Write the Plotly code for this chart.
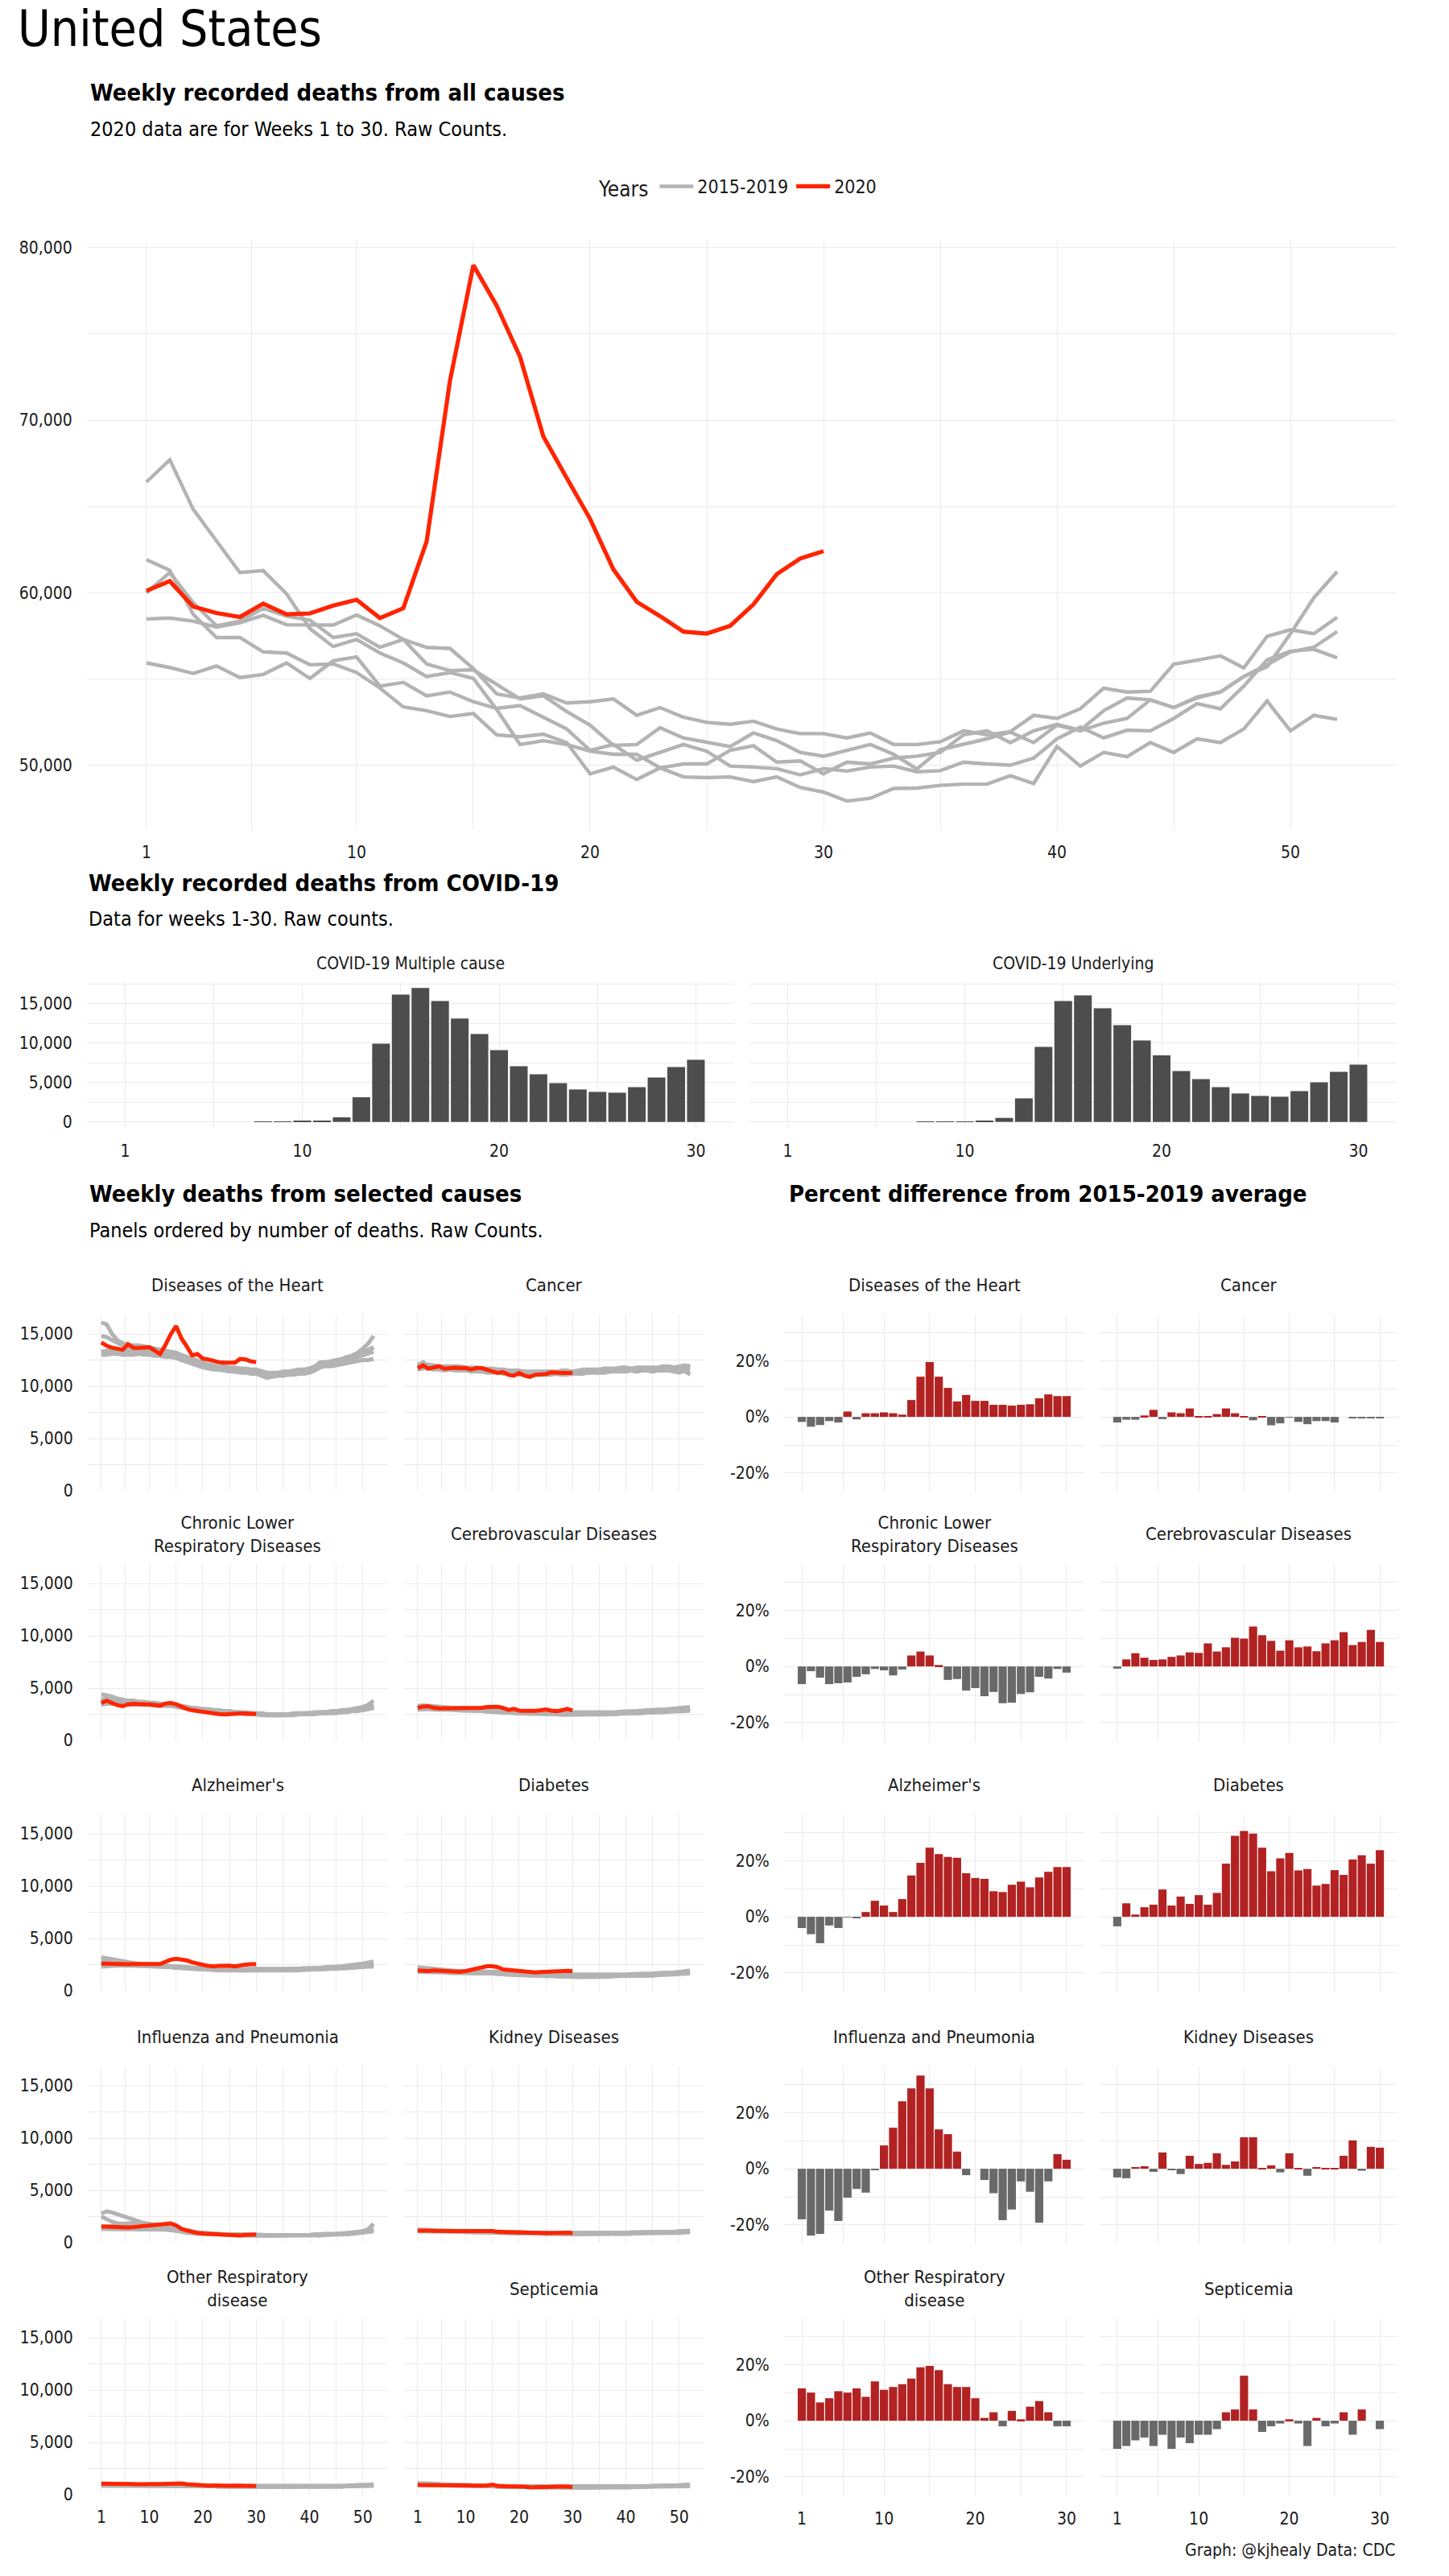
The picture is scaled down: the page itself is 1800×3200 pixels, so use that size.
import plotly.graph_objects as go

# ---------------------------------------------------------------- data
weeks = list(range(1, 53))
weeks_2020 = list(range(1, 31))

# all causes, weekly recorded deaths
all_2015 = [61910,61300,58750,57400,57400,56570,56500,55820,55870,55370,54470,53380,53160,52820,53000,51760,51650,51800,51310,49500,49890,49170,49840,49320,49280,
            49320,49050,49320,48710,48440,47920,48080,48650,48670,48830,48900,48900,49390,48940,51080,49950,50740,50500,51310,50740,51530,51310,52100,53720,51990,52890,52660]
all_2016 = [55930,55660,55320,55750,55080,55260,55930,55030,56050,56270,54580,54800,54020,54240,53680,53290,53450,52780,52100,50860,51200,50290,50740,51200,50810,
            49950,49890,49800,49440,49800,49660,49890,49950,49620,49680,50180,50070,50000,50410,51530,52210,51580,52030,51990,52710,53570,53270,54580,56110,56610,56720,56230]
all_2017 = [59990,61170,59430,58080,58350,59090,58640,58410,57400,57620,56830,57290,55870,55480,55530,54690,53840,54020,53110,52320,51150,51200,52170,51580,51310,
            51080,51870,51420,50740,50520,50860,51200,50630,49780,50900,51200,51530,51920,51310,52320,51990,52440,52710,53790,53340,53900,54240,55140,55710,57620,59700,61230]
all_2018 = [66420,67710,64840,62990,61170,61280,59930,57920,56880,57290,56500,55930,55140,55370,55030,53230,51200,51420,51200,50810,50630,50630,49840,50070,50070,
            50860,51130,50180,50250,49500,50180,50070,50410,50520,50740,51760,51990,51310,51990,52370,52030,53160,53900,53790,53340,53950,54240,55140,55820,56570,56840,57740]
all_2019 = [58480,58530,58350,58010,58260,58690,58140,58140,58120,58710,58080,57290,56830,56770,55600,54130,53900,54130,53610,53680,53840,52890,53340,52780,52480,
            52370,52550,52100,51830,51830,51580,51870,51200,51200,51360,51990,51760,51940,52890,52710,53270,54470,54240,54290,55860,56090,56340,55640,57470,57850,57620,58570]
all_2020 = [60110,60670,59200,58820,58590,59360,58750,58800,59250,59590,58530,59100,62970,72290,78990,76640,73680,69060,66650,64280,61350,59470,58640,57740,57630,58080,59320,61080,61980,62410]

# COVID-19 weekly deaths
covid_multiple = [0,0,0,0,0,0,0,10,30,100,140,580,3130,9930,16160,17000,15340,13130,11160,9120,7070,6050,4930,4120,3810,3710,4420,5650,6970,7890]
covid_underlying = [0,0,0,0,0,0,0,5,20,60,100,510,2990,9520,15340,16050,14420,12280,10340,8440,6460,5440,4420,3610,3300,3200,3910,5030,6360,7280]

# selected causes: five 2015-2019 series each, 2020 series, percent difference
heart_prior = [
    [16100,15900,15000,14400,14100,14000,13900,13900,13800,13700,13600,13500,13400,13300,13200,13000,12800,12600,12400,12200,12100,12000,11900,11900,11800,11800,11700,11700,11600,11600,11400,11300,11300,11300,11400,11400,11500,11600,11600,11700,11900,12300,12300,12400,12500,12600,12800,12900,13100,13300,13500,13700],
    [14800,14700,14400,14100,13900,13800,13700,13700,13600,13500,13400,13300,13200,13100,13000,12900,12700,12500,12300,12100,12000,11900,11800,11700,11700,11600,11600,11500,11500,11400,11200,11000,11100,11200,11200,11300,11400,11400,11500,11600,11700,12100,12200,12300,12400,12500,12700,12900,13200,13600,14100,14800],
    [13300,13400,13500,13500,13400,13400,13400,13400,13400,13300,13200,13200,13100,13100,13000,12800,12600,12400,12200,12000,11900,11800,11800,11700,11600,11600,11500,11500,11400,11400,11100,10900,11000,11100,11200,11200,11300,11400,11400,11500,11700,12000,12100,12200,12300,12400,12600,12800,13000,13200,13400,13700],
    [13200,13200,13300,13300,13200,13200,13200,13200,13200,13100,13000,13000,12900,12900,12800,12600,12400,12200,12000,11900,11800,11700,11600,11600,11500,11500,11400,11400,11300,11300,11100,10900,11000,11100,11100,11200,11200,11300,11300,11400,11600,11900,12000,12100,12200,12300,12400,12600,12800,13000,13200,13300],
    [13000,13000,13100,13100,13000,13000,13000,13100,13000,13000,12900,12900,12800,12800,12700,12500,12300,12100,11900,11800,11700,11600,11600,11500,11400,11400,11300,11300,11200,11200,11000,10800,10900,11000,11000,11100,11100,11200,11200,11300,11500,11800,11900,11900,12000,12100,12200,12300,12400,12500,12500,12600],
]
heart_2020 = [14190,13860,13680,13620,13490,14010,13680,13650,13700,13730,13420,13080,13940,14970,15750,14580,13810,12950,13080,12640,12560,12380,12300,12250,12250,12250,12610,12560,12380,12300]
heart_pct = [-1.8,-3.5,-2.9,-1.5,-2.0,1.9,-0.9,1.3,1.3,1.6,1.3,0.8,6.0,14.3,19.5,14.3,10.3,5.5,7.8,5.7,5.7,4.3,4.3,4.0,4.3,4.5,6.6,8.0,7.4,7.4]

cancer_prior = [
    [12000,12300,11900,11800,11800,11900,11800,11800,11800,11700,11700,11700,11700,11600,11600,11500,11500,11400,11400,11400,11400,11300,11300,11400,11400,11400,11300,11400,11400,11300,11400,11500,11500,11400,11500,11500,11600,11600,11500,11600,11600,11700,11700,11600,11700,11600,11600,11700,11600,11500,11800,12000],
    [11900,12000,12100,11900,11800,11700,11800,11700,11700,11700,11600,11600,11500,11500,11500,11400,11400,11300,11300,11300,11200,11200,11300,11300,11200,11300,11300,11200,11300,11300,11300,11400,11400,11400,11500,11500,11500,11500,11600,11600,11500,11600,11600,11700,11600,11700,11700,11600,11500,11700,11700,11600],
    [11800,12000,11800,11800,11700,11700,11600,11700,11600,11600,11600,11500,11500,11500,11400,11400,11300,11300,11300,11200,11200,11200,11200,11100,11200,11200,11200,11300,11200,11200,11300,11300,11300,11400,11400,11400,11400,11500,11500,11500,11600,11500,11500,11600,11600,11500,11600,11700,11600,11600,11400,11300],
    [11600,11700,11700,11600,11600,11500,11600,11500,11500,11500,11400,11400,11400,11300,11300,11300,11200,11200,11200,11100,11100,11100,11100,11100,11100,11100,11200,11100,11100,11200,11200,11200,11300,11300,11300,11300,11400,11400,11400,11400,11500,11400,11500,11500,11400,11500,11500,11500,11400,11300,11500,11100],
    [12100,12100,12000,12000,11900,11900,11900,11900,11900,11800,11800,11800,11700,11700,11700,11600,11600,11500,11500,11500,11400,11400,11400,11400,11400,11400,11400,11500,11500,11400,11500,11600,11600,11600,11600,11700,11700,11700,11800,11800,11700,11800,11800,11800,11800,11800,11900,11900,11800,11900,12000,11900],
]
cancer_2020 = [11730,11990,11680,11780,11910,11680,11730,11780,11730,11730,11600,11730,11730,11600,11470,11270,11340,11090,11010,11270,11010,10900,11090,11140,11160,11320,11270,11270,11270,11270]
cancer_pct = [-2.0,-1.0,-1.0,0.5,2.5,-0.8,1.6,1.3,3.0,0.2,0.2,1.0,3.0,1.3,0.2,-1.2,0.1,-3.0,-2.3,-0.2,-1.8,-2.6,-1.5,-1.5,-2.0,0.0,-0.5,-0.5,-0.5,-0.5]

clrd_prior = [
    [4400,4300,4200,4000,3900,3800,3800,3700,3700,3600,3600,3500,3500,3400,3400,3300,3200,3100,3100,3000,3000,2900,2900,2800,2800,2700,2700,2700,2600,2600,2600,2500,2500,2500,2500,2500,2600,2600,2600,2600,2700,2700,2700,2800,2800,2900,2900,3000,3100,3200,3400,3800],
    [3900,4000,3900,3800,3800,3700,3700,3700,3600,3600,3600,3500,3500,3500,3400,3300,3200,3100,3000,3000,2900,2900,2800,2800,2800,2700,2700,2600,2600,2600,2500,2500,2500,2500,2500,2500,2500,2600,2600,2600,2600,2700,2700,2700,2800,2800,2900,2900,3000,3100,3200,3400],
    [3700,3800,3800,3700,3700,3700,3600,3600,3600,3500,3500,3500,3400,3400,3300,3200,3100,3100,3000,2900,2900,2800,2800,2800,2700,2700,2600,2600,2600,2500,2500,2500,2400,2400,2500,2500,2500,2500,2600,2600,2600,2600,2700,2700,2700,2800,2800,2900,2900,3000,3100,3200],
    [3600,3600,3600,3600,3500,3500,3500,3500,3500,3400,3400,3400,3300,3300,3300,3200,3100,3000,3000,2900,2800,2800,2800,2700,2700,2600,2600,2600,2500,2500,2500,2400,2400,2400,2400,2500,2500,2500,2500,2600,2600,2600,2600,2700,2700,2700,2800,2800,2900,2900,3000,3100],
    [3400,3500,3500,3500,3500,3400,3400,3400,3400,3400,3300,3300,3300,3300,3200,3100,3100,3000,2900,2900,2800,2800,2700,2700,2700,2600,2600,2500,2500,2500,2400,2400,2400,2400,2400,2400,2400,2500,2500,2500,2500,2600,2600,2600,2600,2700,2700,2800,2800,2900,3000,3200],
]
clrd_2020 = [3580,3790,3580,3370,3270,3450,3500,3450,3450,3450,3370,3320,3530,3580,3450,3190,3010,2880,2800,2720,2620,2570,2520,2490,2540,2570,2570,2570,2540,2520]
clrd_pct = [-6.3,-1.7,-4.0,-6.3,-6.0,-5.7,-3.7,-2.8,-0.9,-1.4,-3.2,-1.1,3.9,5.3,3.9,0.5,-4.8,-4.5,-8.6,-7.7,-10.6,-9.1,-13.1,-12.9,-9.8,-9.2,-3.7,-4.3,-0.9,-2.2]

cerebro_prior = [
    [3300,3350,3300,3250,3200,3150,3150,3100,3100,3050,3050,3000,3000,2950,2950,2900,2850,2800,2800,2750,2750,2750,2700,2700,2700,2700,2700,2650,2650,2650,2650,2650,2650,2650,2700,2700,2700,2700,2750,2750,2800,2800,2850,2900,2900,2950,2950,3000,3050,3050,3100,3200],
    [3200,3250,3200,3150,3100,3100,3050,3050,3000,3000,3000,2950,2950,2900,2900,2850,2800,2750,2750,2700,2700,2650,2650,2650,2650,2600,2600,2600,2600,2600,2600,2600,2600,2600,2600,2650,2650,2650,2700,2700,2700,2750,2800,2800,2850,2850,2900,2950,2950,3000,3000,3100],
    [3100,3150,3100,3100,3050,3050,3000,3000,3000,2950,2950,2900,2900,2850,2850,2800,2750,2700,2700,2650,2650,2600,2600,2600,2600,2550,2550,2550,2550,2550,2550,2550,2550,2550,2600,2600,2600,2600,2650,2650,2650,2700,2700,2750,2750,2800,2800,2850,2900,2900,2950,3000],
    [3000,3050,3050,3000,3000,2950,2950,2950,2900,2900,2900,2850,2850,2800,2800,2750,2700,2650,2650,2600,2600,2600,2550,2550,2550,2500,2500,2500,2500,2500,2500,2500,2500,2500,2550,2550,2550,2550,2600,2600,2600,2650,2650,2700,2700,2750,2750,2800,2800,2850,2850,2900],
    [2950,3000,3000,2950,2950,2900,2900,2900,2850,2850,2850,2800,2800,2750,2750,2700,2650,2650,2600,2600,2550,2550,2550,2500,2500,2500,2500,2450,2450,2450,2450,2450,2450,2500,2500,2500,2500,2500,2550,2550,2550,2600,2600,2650,2650,2700,2700,2750,2750,2800,2800,2850],
]
cerebro_2020 = [3110,3240,3270,3110,3060,3060,3060,3110,3110,3110,3090,3060,3110,3190,3240,3220,3110,2910,3010,2850,2830,2800,2830,2880,2960,2850,2800,2880,3010,2880]
cerebro_pct = [-0.8,2.5,4.7,3.1,2.3,2.5,3.4,3.9,5.0,4.8,8.2,5.3,6.8,10.2,9.9,14.2,11.1,9.1,5.6,9.3,6.8,7.1,5.4,8.2,9.3,12.2,7.6,8.7,13.0,8.7]

alz_prior = [
    [3200,3100,3000,2900,2800,2700,2650,2600,2550,2500,2450,2400,2400,2350,2300,2300,2250,2200,2200,2150,2100,2100,2100,2050,2050,2050,2050,2050,2050,2050,2050,2050,2050,2050,2100,2100,2100,2100,2150,2150,2200,2200,2250,2250,2300,2350,2400,2450,2500,2600,2700,2800],
    [2900,2950,2900,2800,2700,2650,2600,2550,2500,2450,2450,2400,2400,2350,2350,2300,2250,2200,2200,2150,2150,2100,2100,2100,2100,2050,2050,2050,2050,2050,2050,2000,2000,2050,2050,2050,2100,2100,2100,2150,2150,2200,2200,2250,2250,2300,2300,2350,2400,2450,2500,2600],
    [2700,2750,2750,2700,2650,2600,2550,2500,2450,2450,2400,2400,2350,2350,2300,2250,2200,2200,2150,2150,2100,2100,2050,2050,2050,2000,2000,2000,2000,2000,2000,2000,2000,2000,2000,2050,2050,2050,2100,2100,2100,2150,2150,2200,2200,2250,2250,2300,2350,2400,2450,2500],
    [2500,2550,2600,2550,2550,2500,2500,2450,2400,2400,2350,2350,2300,2300,2250,2200,2150,2150,2100,2100,2050,2050,2000,2000,2000,1950,1950,1950,1950,1950,1950,1950,1950,1950,1950,2000,2000,2000,2050,2050,2050,2100,2100,2150,2150,2200,2200,2250,2300,2350,2400,2450],
    [2300,2350,2400,2400,2400,2400,2400,2400,2350,2350,2300,2300,2250,2250,2200,2150,2100,2100,2050,2050,2000,2000,1950,1950,1950,1900,1900,1900,1900,1900,1900,1900,1900,1900,1900,1950,1950,1950,2000,2000,2000,2050,2050,2100,2100,2150,2150,2200,2250,2300,2300,2300],
]
alz_2020 = [2590,2560,2530,2510,2510,2530,2560,2560,2560,2530,2510,2560,2770,2970,3050,2970,2900,2720,2560,2480,2380,2330,2380,2400,2400,2330,2430,2510,2530,2530]
alz_pct = [-4.0,-6.2,-9.4,-3.1,-4.0,-0.2,-0.5,1.7,5.7,4.0,1.7,6.3,14.7,19.2,24.6,22.3,21.3,21.0,15.5,13.8,13.5,9.1,8.8,11.4,12.5,10.5,14.0,16.0,17.7,17.7]

diabetes_prior = [
    [2250,2200,2100,2050,2000,1950,1950,1900,1900,1850,1850,1850,1850,1850,1850,1800,1750,1700,1700,1650,1650,1600,1600,1600,1550,1550,1550,1550,1500,1500,1500,1500,1500,1500,1500,1500,1550,1550,1550,1550,1600,1600,1600,1650,1650,1700,1700,1750,1750,1800,1850,1950],
    [2100,2100,2050,2000,1950,1900,1900,1850,1850,1800,1800,1800,1800,1800,1800,1750,1700,1700,1650,1600,1600,1600,1550,1550,1550,1500,1500,1500,1500,1450,1450,1450,1450,1450,1450,1450,1500,1500,1500,1500,1550,1550,1550,1600,1600,1650,1650,1700,1700,1750,1800,1850],
    [2000,2000,1950,1950,1900,1850,1850,1800,1800,1750,1750,1750,1750,1750,1750,1700,1650,1650,1600,1600,1550,1550,1500,1500,1500,1500,1450,1450,1450,1450,1400,1400,1400,1400,1450,1450,1450,1450,1450,1500,1500,1500,1550,1550,1550,1600,1600,1650,1650,1700,1750,1800],
    [1900,1900,1900,1850,1850,1800,1800,1750,1750,1750,1700,1700,1700,1700,1700,1650,1600,1600,1550,1550,1500,1500,1500,1450,1450,1450,1400,1400,1400,1400,1350,1350,1350,1400,1400,1400,1400,1400,1450,1450,1450,1450,1500,1500,1500,1550,1550,1600,1600,1650,1650,1700],
    [1800,1800,1800,1800,1750,1750,1700,1700,1700,1650,1650,1650,1650,1650,1650,1600,1550,1550,1500,1500,1450,1450,1450,1400,1400,1400,1350,1350,1350,1300,1300,1300,1300,1350,1350,1350,1350,1400,1400,1400,1400,1400,1450,1450,1450,1500,1500,1550,1550,1600,1600,1650],
]
diabetes_2020 = [1940,1890,1890,1940,1910,1910,1890,1840,1810,1890,1990,2070,2250,2350,2350,2250,2040,1990,1990,1940,1840,1780,1760,1780,1810,1890,1910,1890,1910,1890]
diabetes_pct = [-3.4,4.8,0.8,3.4,4.3,9.7,4.0,7.2,4.6,7.7,4.3,8.5,18.9,28.8,30.5,29.6,24.6,16.2,20.8,22.7,16.5,17.0,11.1,11.7,16.6,14.9,20.4,21.9,18.9,23.7]

flu_prior = [
    [2800,3000,2900,2750,2600,2450,2300,2050,1850,1650,1550,1450,1400,1350,1250,1150,1050,1000,950,900,850,850,800,800,800,750,750,750,750,700,700,700,700,700,700,700,750,750,750,750,800,800,800,850,850,900,900,950,1000,1050,1100,1200],
    [2500,2200,2000,1850,1800,1850,1900,1950,1900,1800,1700,1600,1500,1450,1350,1200,1100,1050,1000,950,900,850,850,800,800,800,750,750,750,750,750,700,700,700,700,700,700,750,750,750,750,800,800,800,850,850,900,950,1000,1100,1300,1800],
    [1500,1550,1600,1550,1500,1500,1450,1450,1450,1450,1450,1450,1400,1400,1300,1200,1100,1000,950,900,900,850,850,800,800,800,750,750,750,750,750,700,700,700,700,700,700,750,750,750,750,800,800,800,850,850,900,950,1000,1050,1150,1300],
    [1400,1400,1400,1400,1400,1400,1400,1400,1400,1400,1400,1400,1350,1300,1200,1100,1000,950,900,900,850,850,800,800,800,750,750,750,700,700,700,700,700,700,700,700,700,700,700,750,750,750,750,800,800,800,850,900,950,1000,1050,1150],
    [1300,1300,1300,1300,1300,1300,1300,1300,1300,1300,1300,1300,1250,1200,1150,1050,950,900,900,850,800,800,800,750,750,750,700,700,700,700,650,650,650,650,650,650,700,700,700,700,700,700,750,750,750,800,800,850,900,950,1000,1100],
]
flu_2020 = [1550,1530,1500,1450,1420,1470,1500,1550,1580,1630,1710,1780,1840,1850,1660,1340,1190,1030,930,880,850,830,780,750,720,670,700,750,780,780]
flu_pct = [-18.0,-23.8,-23.2,-14.9,-18.6,-10.3,-7.2,-8.5,-0.4,8.3,14.6,24.0,28.6,33.2,28.6,14.0,12.3,6.1,-2.3,0.0,-4.0,-8.7,-18.3,-14.5,-4.5,-8.2,-19.2,-4.5,5.2,3.2]

kidney_prior = [
    [1250,1250,1200,1200,1200,1150,1150,1150,1150,1100,1100,1100,1100,1100,1050,1050,1050,1000,1000,1000,1000,950,950,950,950,950,950,900,900,900,900,900,900,900,900,950,950,950,950,950,1000,1000,1000,1000,1000,1050,1050,1050,1050,1100,1100,1150],
    [1200,1200,1200,1150,1150,1150,1150,1100,1100,1100,1100,1100,1050,1050,1050,1050,1000,1000,1000,950,950,950,950,950,950,900,900,900,900,900,900,900,900,900,900,900,900,950,950,950,950,950,1000,1000,1000,1000,1000,1050,1050,1050,1100,1100],
    [1150,1150,1150,1150,1100,1100,1100,1100,1100,1050,1050,1050,1050,1000,1000,1000,1000,950,950,950,950,900,900,900,900,900,900,850,850,850,850,850,850,850,850,900,900,900,900,900,900,950,950,950,950,950,1000,1000,1000,1000,1050,1050],
    [1150,1150,1100,1100,1100,1100,1100,1050,1050,1050,1050,1000,1000,1000,1000,950,950,950,950,900,900,900,900,900,850,850,850,850,850,850,850,850,850,850,850,850,850,900,900,900,900,900,900,950,950,950,950,950,1000,1000,1000,1050],
    [1100,1100,1100,1100,1050,1050,1050,1050,1050,1000,1000,1000,1000,1000,950,950,950,900,900,900,900,900,850,850,850,850,850,850,800,800,800,800,800,800,850,850,850,850,850,850,850,900,900,900,900,900,900,950,950,950,1000,1000],
]
kidney_2020 = [1160,1190,1160,1140,1110,1140,1110,1110,1110,1110,1090,1090,1110,1140,1110,1030,1010,980,980,980,960,930,930,930,930,930,960,960,960,930]
kidney_pct = [-3.1,-3.4,0.6,0.9,-1.1,5.8,-0.5,-1.9,4.6,1.7,2.1,5.5,1.4,2.6,11.2,11.2,0.3,1.2,-1.3,5.5,0.3,-2.5,0.6,0.3,0.3,4.6,10.1,-0.7,7.8,7.5]

otherresp_prior = [
    [1050,1050,1000,1000,1000,950,950,950,950,950,950,950,950,900,900,900,900,850,850,850,850,850,850,800,800,800,800,800,800,800,800,800,800,800,800,800,800,800,800,800,800,850,850,850,850,850,850,900,900,900,950,1000],
    [1000,1000,1000,950,950,950,950,950,900,900,900,900,900,900,900,900,850,850,850,850,850,800,800,800,800,800,800,800,800,800,800,800,800,800,800,800,800,800,800,800,800,800,800,800,850,850,850,850,900,900,900,950],
    [950,950,950,950,950,900,900,900,900,900,900,900,900,900,900,850,850,850,850,850,800,800,800,800,800,800,800,800,800,800,750,750,750,750,750,750,750,750,800,800,800,800,800,800,800,800,850,850,850,850,900,900],
    [900,900,900,900,900,900,900,900,900,900,900,850,850,850,850,850,850,800,800,800,800,800,800,800,750,750,750,750,750,750,750,750,750,750,750,750,750,750,750,750,750,800,800,800,800,800,800,800,850,850,850,900],
    [850,850,850,850,850,850,850,850,850,850,850,850,850,850,850,800,800,800,800,800,800,800,750,750,750,750,750,750,750,750,750,750,700,700,700,700,700,750,750,750,750,750,750,750,750,750,800,800,800,800,850,850],
]
otherresp_2020 = [1050,1030,1000,1010,1020,1010,1010,1000,1030,1010,1010,1020,1050,1080,1090,1070,1000,950,930,900,870,880,850,860,850,860,860,850,830,830]
otherresp_pct = [11.5,10.0,6.5,8.0,10.5,10.0,11.5,8.5,14.0,11.0,12.0,13.0,15.0,19.0,19.5,18.0,13.0,12.0,12.0,8.0,1.0,3.0,-2.0,3.5,0.5,5.0,7.0,3.0,-2.0,-2.0]

sept_prior = [
    [1100,1100,1050,1050,1000,1000,1000,950,950,950,900,900,900,850,850,850,850,800,800,800,800,800,800,750,750,750,750,750,750,750,750,750,750,750,750,750,750,750,800,800,800,800,800,800,850,850,850,850,900,900,950,950],
    [1050,1050,1050,1000,1000,950,950,950,900,900,900,850,850,850,850,800,800,800,800,800,750,750,750,750,750,750,750,750,750,750,750,750,750,750,750,750,750,750,750,800,800,800,800,800,800,800,850,850,850,900,900,950],
    [1000,1000,1000,1000,950,950,950,900,900,900,850,850,850,850,800,800,800,800,750,750,750,750,750,750,750,750,750,700,700,700,700,700,700,700,700,750,750,750,750,750,750,800,800,800,800,800,800,850,850,850,900,900],
    [1000,1000,950,950,950,900,900,900,900,850,850,850,850,800,800,800,800,750,750,750,750,750,750,700,700,700,700,700,700,700,700,700,700,700,700,700,700,700,750,750,750,750,750,750,800,800,800,800,800,850,850,850],
    [950,950,950,900,900,900,900,850,850,850,850,800,800,800,800,750,750,750,750,750,700,700,700,700,700,700,700,700,700,700,650,650,650,650,700,700,700,700,700,700,700,750,750,750,750,750,750,800,800,800,800,850],
]
sept_2020 = [930,920,920,910,880,880,850,870,840,850,830,840,860,880,950,830,770,780,780,790,770,700,760,740,740,770,720,780,760,740]
sept_pct = [-10.0,-9.0,-7.0,-6.0,-9.0,-5.0,-10.0,-6.0,-8.0,-5.0,-5.0,-3.0,3.0,4.0,16.0,4.0,-4.0,-2.0,-1.0,0.5,-1.0,-9.0,1.0,-2.0,-1.0,3.0,-5.0,4.0,0.0,-3.0]

cause_labels = ["Diseases of the Heart", "Cancer",
                "Chronic Lower<br>Respiratory Diseases", "Cerebrovascular Diseases",
                "Alzheimer's", "Diabetes",
                "Influenza and Pneumonia", "Kidney Diseases",
                "Other Respiratory<br>disease", "Septicemia"]
cause_prior = [heart_prior, cancer_prior, clrd_prior, cerebro_prior, alz_prior,
               diabetes_prior, flu_prior, kidney_prior, otherresp_prior, sept_prior]
cause_2020 = [heart_2020, cancer_2020, clrd_2020, cerebro_2020, alz_2020,
              diabetes_2020, flu_2020, kidney_2020, otherresp_2020, sept_2020]
cause_pct = [heart_pct, cancer_pct, clrd_pct, cerebro_pct, alz_pct,
             diabetes_pct, flu_pct, kidney_pct, otherresp_pct, sept_pct]

# ---------------------------------------------------------------- style
W, H = 1800, 3200
FONT = "Liberation Sans Narrow, DejaVu Sans Condensed, sans-serif"
TXT = "#1A1A1A"
TICKFONT = dict(family=FONT, size=21, color=TXT)
GRAY = "#B3B3B3"
RED = "#FF2400"
DARK = "#4D4D4D"
POS = "#B22222"
NEG = "#696969"
GRID = "#EBEBEB"

fig = go.Figure()
axes = {}
annotations = []
count = [0]


def panel(x0, x1, y0, y1, xrange, yrange, xticks, xlabels, xminor,
          yticks, ylabels, yminor, show_x, show_y):
    count[0] += 1
    n = count[0]
    s = "" if n == 1 else str(n)
    base = dict(showgrid=True, gridcolor=GRID, gridwidth=1.2, zeroline=False,
                showline=False, ticks="outside", tickcolor="rgba(0,0,0,0)",
                tickfont=TICKFONT, fixedrange=True, tickmode="array")
    axes["xaxis" + s] = dict(base, domain=[x0 / W, x1 / W], range=xrange,
                             anchor="y" + s, tickvals=xticks, ticktext=xlabels,
                             showticklabels=show_x, ticklen=9,
                             minor=dict(tickmode="array", tickvals=xminor, showgrid=True,
                                        gridcolor=GRID, gridwidth=0.7, ticks=""))
    axes["yaxis" + s] = dict(base, domain=[1 - y1 / H, 1 - y0 / H], range=yrange,
                             anchor="x" + s, tickvals=yticks, ticktext=ylabels,
                             showticklabels=show_y, ticklen=13,
                             minor=dict(tickmode="array", tickvals=yminor, showgrid=True,
                                        gridcolor=GRID, gridwidth=0.7, ticks=""))
    return "x" + s, "y" + s


def text(x, y, s, size, xanchor="left", bold=False, color="#000000", weight=None):
    font = dict(family=FONT, size=size, color=color)
    if weight is not None:
        font["weight"] = weight
    annotations.append(dict(x=x / W, y=1 - y / H, xref="paper", yref="paper",
                            text=("<b>%s</b>" % s) if bold else s, showarrow=False,
                            xanchor=xanchor, yanchor="middle", align="center",
                            font=font))


# ---------------------------------------------------------------- main chart
wk_ticks = [1, 10, 20, 30, 40, 50]
wk_minor = [5.5, 15, 25, 35, 45]
xa, ya = panel(108, 1735, 298, 1031, [-1.55, 54.55], [46245, 80455],
               wk_ticks, [str(v) for v in wk_ticks], wk_minor,
               [50000, 60000, 70000, 80000], ["50,000", "60,000", "70,000", "80,000"],
               [55000, 65000, 75000], True, True)
for i, series in enumerate([all_2015, all_2016, all_2017, all_2018, all_2019]):
    fig.add_trace(go.Scatter(x=weeks, y=series, xaxis=xa, yaxis=ya, mode="lines",
                             line=dict(color=GRAY, width=4.4), name="2015-2019",
                             legendgroup="prior", showlegend=(i == 0), hoverinfo="skip"))
fig.add_trace(go.Scatter(x=weeks_2020, y=all_2020, xaxis=xa, yaxis=ya, mode="lines",
                         line=dict(color=RED, width=5.2), name="2020",
                         legendgroup="cur", showlegend=True, hoverinfo="skip"))

# ---------------------------------------------------------------- COVID bars
c_ticks = [1, 10, 20, 30]
c_minor = [5.5, 15, 25]
for k, (vals, label, x0, x1) in enumerate([(covid_multiple, "COVID-19 Multiple cause", 108, 912),
                                            (covid_underlying, "COVID-19 Underlying", 931, 1735)]):
    xa, ya = panel(x0, x1, 1219, 1402, [-0.945, 31.945], [-850, 17850],
                   c_ticks, [str(v) for v in c_ticks], c_minor,
                   [0, 5000, 10000, 15000], ["0", "5,000", "10,000", "15,000"],
                   [2500, 7500, 12500, 17500], True, k == 0)
    fig.add_trace(go.Bar(x=weeks_2020, y=vals, xaxis=xa, yaxis=ya, width=0.9,
                         marker=dict(color=DARK, line=dict(width=0)),
                         showlegend=False, hoverinfo="skip"))
    text((x0 + x1) / 2, 1197, label, 21, xanchor="center", color=TXT)

# ---------------------------------------------------------------- small multiples
row_tops = [1633, 1943, 2254, 2567, 2880]
PH = 219
raw_cols = [(109, 481), (502, 874)]
pct_cols = [(974, 1347), (1366, 1736)]
for idx in range(10):
    r, c = divmod(idx, 2)
    top = row_tops[r]
    bottom = top + PH
    last = (r == 4)
    # raw counts
    x0, x1 = raw_cols[c]
    xa, ya = panel(x0, x1, top, bottom, [-1.55, 54.55], [0, 16850],
                   wk_ticks, [str(v) for v in wk_ticks], wk_minor,
                   [0, 5000, 10000, 15000], ["0", "5,000", "10,000", "15,000"],
                   [2500, 7500, 12500], last, c == 0)
    for series in cause_prior[idx]:
        fig.add_trace(go.Scatter(x=weeks, y=series, xaxis=xa, yaxis=ya, mode="lines",
                                 line=dict(color=GRAY, width=5), showlegend=False,
                                 hoverinfo="skip"))
    fig.add_trace(go.Scatter(x=weeks_2020, y=cause_2020[idx], xaxis=xa, yaxis=ya,
                             mode="lines", line=dict(color=RED, width=5),
                             showlegend=False, hoverinfo="skip"))
    text((x0 + x1) / 2, top - 37, cause_labels[idx], 22, xanchor="center", color=TXT)
    # percent difference
    x0, x1 = pct_cols[c]
    xa, ya = panel(x0, x1, top, bottom + 2, [-0.945, 31.945], [-26.9, 36.4],
                   c_ticks, [str(v) for v in c_ticks], c_minor,
                   [-20, 0, 20], ["-20%", "0%", "20%"], [-10, 10, 30], last, c == 0)
    pct = cause_pct[idx]
    fig.add_trace(go.Bar(x=weeks_2020, y=pct, xaxis=xa, yaxis=ya, width=0.9,
                         marker=dict(color=[POS if v > 0 else NEG for v in pct],
                                     line=dict(width=0)),
                         showlegend=False, hoverinfo="skip"))
    text((x0 + x1) / 2, top - 37, cause_labels[idx], 22, xanchor="center", color=TXT)

# ---------------------------------------------------------------- titles
text(20, 36, "United States", 62, weight=300)
text(110, 115, "Weekly recorded deaths from all causes", 29, bold=True)
text(110, 161, "2020 data are for Weeks 1 to 30. Raw Counts.", 25)
text(108, 1097, "Weekly recorded deaths from COVID-19", 29, bold=True)
text(108, 1141, "Data for weeks 1-30. Raw counts.", 25)
text(109, 1483, "Weekly deaths from selected causes", 29, bold=True)
text(109, 1528, "Panels ordered by number of deaths. Raw Counts.", 25)
text(978, 1483, "Percent difference from 2015-2019 average", 29, bold=True)
text(1735, 3168, "Graph: @kjhealy Data: CDC", 21, xanchor="right", color=TXT)

fig.update_layout(
    width=W, height=H, margin=dict(l=0, r=0, t=0, b=0),
    paper_bgcolor="white", plot_bgcolor="white", template="none",
    hovermode=False, barmode="overlay",
    showlegend=True,
    legend=dict(orientation="h", x=742 / W, y=1 - 232 / H, xanchor="left", yanchor="middle",
                title=dict(text="Years", side="left", font=dict(family=FONT, size=26, color=TXT)),
                font=dict(family=FONT, size=23, color=TXT), itemwidth=42,
                bgcolor="rgba(0,0,0,0)", traceorder="normal"),
    annotations=annotations,
    **axes,
)

fig.write_html("out.html", config={"displayModeBar": False},
               post_script="document.body.style.margin='0';")
